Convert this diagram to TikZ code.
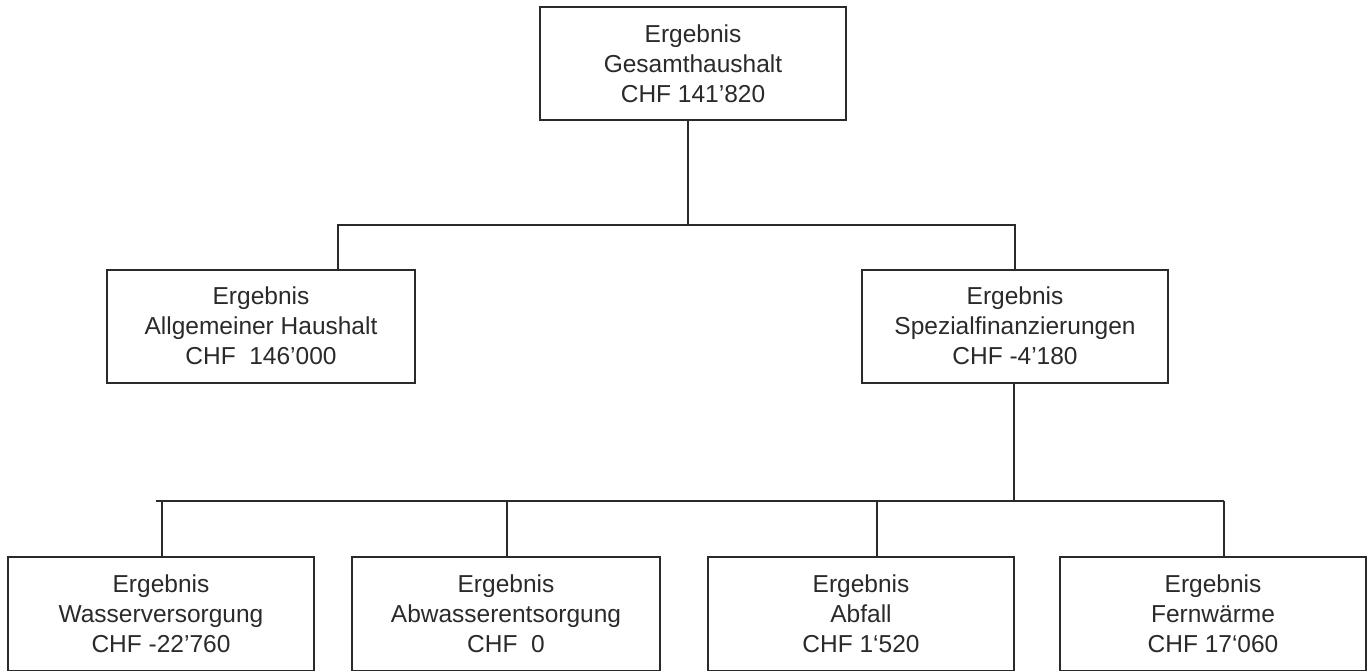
\documentclass[tikz,border=0pt]{standalone}
\usepackage{fontspec}
\setmainfont{Liberation Sans}
\definecolor{ink}{HTML}{2A2A2A}
\begin{document}
\begin{tikzpicture}[x=1pt,y=-1pt,
  box/.style={draw=ink, line width=2pt, fill=white, text=ink, align=center,
    minimum width=306pt, minimum height=113pt, inner sep=0pt,
    font=\fontsize{24.5pt}{30pt}\selectfont},
  conn/.style={draw=ink, line width=2pt}]
\useasboundingbox[fill=white] (0,0) rectangle (1370,671);
% nodes
\node[box] (ges) at (693,63.5) {Ergebnis\\Gesamthaushalt\\CHF 141’820};
\node[box, minimum width=308pt] (ahh) at (261,326) {Ergebnis\\Allgemeiner Haushalt\\CHF\ \ 146’000};
\node[box] (spez) at (1015,326) {Ergebnis\\Spezialfinanzierungen\\CHF -4’180};
\node[box, minimum height=114pt] (wv) at (161,614) {Ergebnis\\Wasserversorgung\\CHF -22’760};
\node[box, minimum width=308pt, minimum height=114pt] (abw) at (506,614) {Ergebnis\\Abwasserentsorgung\\CHF\ \ 0};
\node[box, minimum height=114pt] (abf) at (861,614) {Ergebnis\\Abfall\\CHF 1‘520};
\node[box, minimum height=114pt] (fw) at (1213,614) {Ergebnis\\Fernwärme\\CHF 17‘060};
% junctions
\coordinate (j1) at (688,225);
\coordinate (l1) at (338,225);
\coordinate (j2) at (1014,501);
\coordinate (l2) at (156,501);
\coordinate (r2) at (1224,501);
% level 1 connectors
\draw[conn] (ges.south -| j1) -- (j1);
\draw[conn] (ahh.north -| l1) -- (l1) -- (j1) -| (spez.north);
% level 2 connectors
\draw[conn] (spez.south -| j2) -- (j2);
\draw[conn] (l2) -- (r2);
\draw[conn] (wv.north -| 162,0) -- (162,501);
\draw[conn] (abw.north -| 507,0) -- (507,501);
\draw[conn] (abf.north -| 877,0) -- (877,501);
\draw[conn] (fw.north -| r2) -- (r2);
\end{tikzpicture}
\end{document}
